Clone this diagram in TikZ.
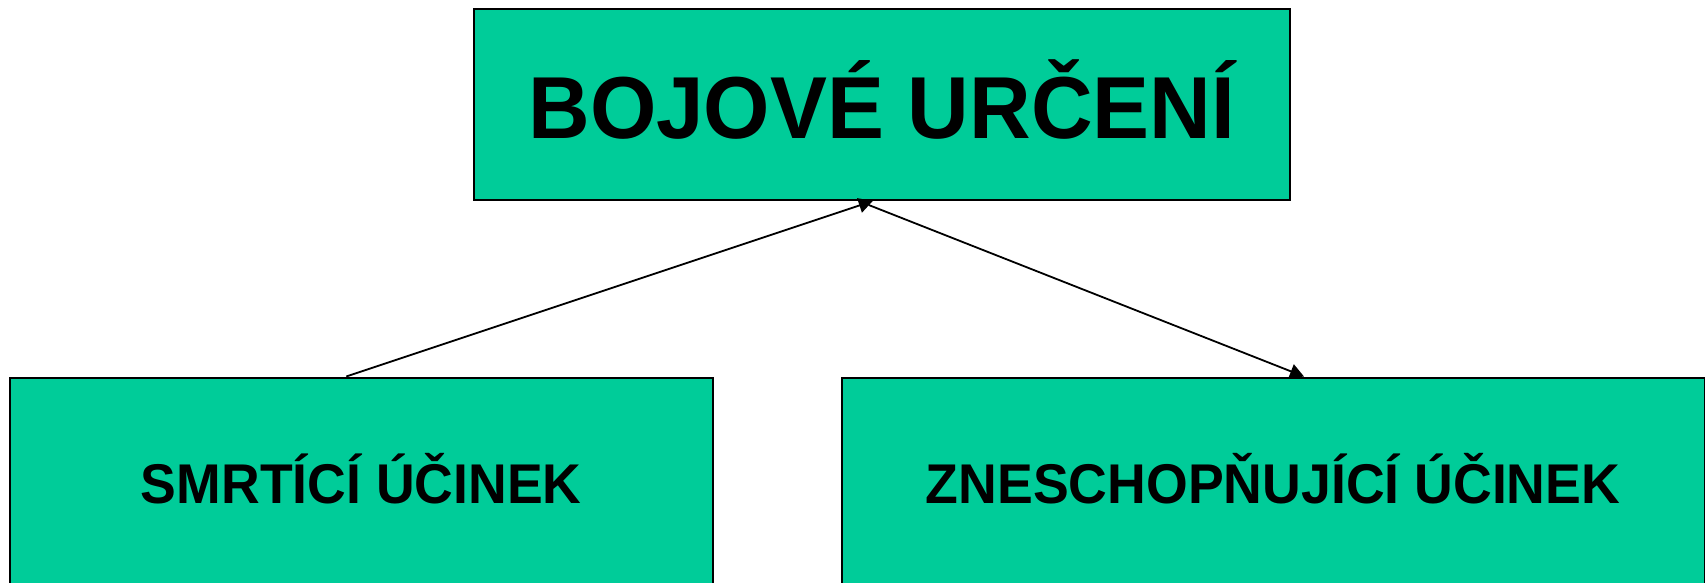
\documentclass[tikz,border=0pt]{standalone}
\usepackage{fontspec}
\setmainfont{Liberation Sans}
\usetikzlibrary{arrows.meta}
\definecolor{boxgreen}{HTML}{00CC99}
\tikzset{
  box/.style={draw=black, fill=boxgreen, line width=2pt, inner sep=0pt, text depth=0pt},
  conn/.style={draw=black, line width=1.8pt, -{Triangle[length=14pt,width=15pt]}},
}
\begin{document}
\begin{tikzpicture}[x=1pt,y=-1pt]
\useasboundingbox (0,0) rectangle (1705,582);
\clip (0,0) rectangle (1705,582);
\node[box, anchor=north west, minimum width=815.5pt, minimum height=191pt, text height=67pt, font=\bfseries\fontsize{88}{100}\selectfont] (top) at (473,8) {\scalebox{0.97}[1]{BOJOVÉ URČENÍ}};
\node[box, anchor=north west, minimum width=703.5pt, minimum height=209pt, text height=42pt, font=\bfseries\fontsize{56}{64}\selectfont] (bl) at (8.5,376.5) {\scalebox{0.957}[1]{SMRTÍCÍ ÚČINEK}};
\node[box, anchor=north west, minimum width=863pt, minimum height=209pt, text height=42pt, font=\bfseries\fontsize{56}{64}\selectfont] (br) at (840.5,376.5) {\scalebox{0.958}[1]{ZNESCHOPŇUJÍCÍ ÚČINEK}};
\draw[conn] ([xshift=-15pt]bl.north) -- ([xshift=-9pt]top.south);
\draw[conn] ([xshift=-13pt,yshift=-4pt]top.south) -- ([xshift=31pt]br.north);
\end{tikzpicture}
\end{document}
